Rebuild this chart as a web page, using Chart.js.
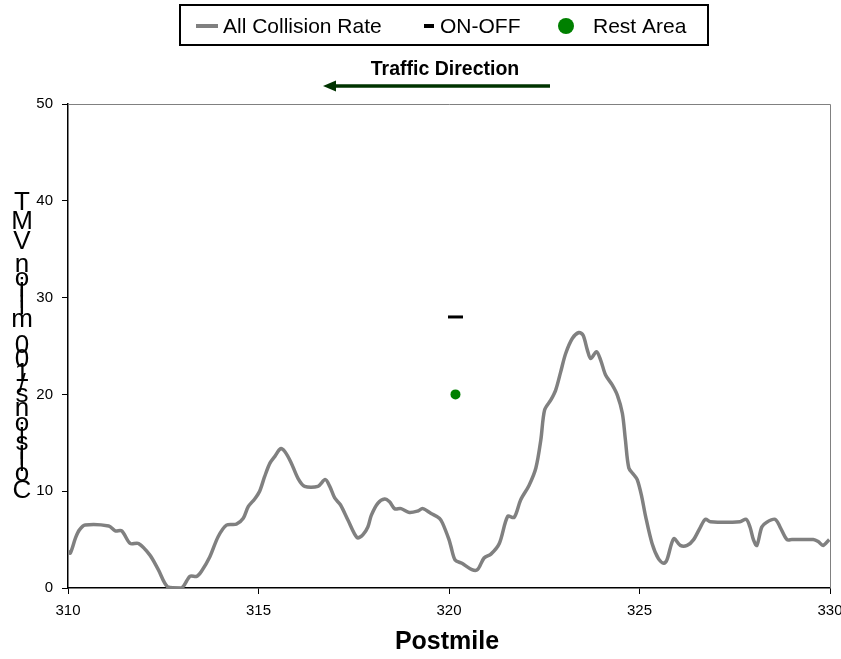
<!DOCTYPE html>
<html>
<head>
<meta charset="utf-8">
<script src="https://cdn.jsdelivr.net/npm/chart.js@4.4.0/dist/chart.umd.min.js"></script>
<style>
  html, body { margin: 0; padding: 0; background: #fff; }
  #wrap { width: 841px; height: 659px; position: relative; }
</style>
</head>
<body>
<div id="wrap"><canvas id="chart"></canvas></div>
<script>
// postmile positions and collision rates
const postmile = [
  310.0, 310.06, 310.2, 310.3, 310.45, 311.07, 311.24, 311.41, 311.63, 311.85,
  312.15, 312.37, 312.62, 312.98, 313.2, 313.38, 313.5, 313.72, 313.94, 314.16,
  314.42, 314.6, 314.73, 314.9, 315.03, 315.16, 315.3, 315.43, 315.58, 315.69,
  315.85, 316.04, 316.21, 316.56, 316.75, 316.87, 317.0, 317.15, 317.35, 317.59,
  317.74, 317.87, 317.96, 318.13, 318.31, 318.44, 318.57, 318.74, 318.96, 319.18,
  319.31, 319.53, 319.75, 319.83, 320.0, 320.05, 320.16, 320.34, 320.6, 320.75,
  320.92, 321.1, 321.32, 321.54, 321.71, 321.88, 322.1, 322.28, 322.41, 322.51,
  322.67, 322.8, 322.93, 323.06, 323.24, 323.41, 323.52, 323.63, 323.72, 323.87,
  323.98, 324.11, 324.28, 324.42, 324.55, 324.63, 324.72, 324.85, 324.94, 325.05,
  325.16, 325.33, 325.5, 325.64, 325.72, 325.9, 326.07, 326.25, 326.42, 326.6,
  326.73, 326.86, 327.64, 327.8, 327.9, 327.99, 328.08, 328.21, 328.34, 328.56,
  328.69, 328.87, 329.0, 329.56, 329.69, 329.82, 329.98
];
const collisionRate = [
  3.8, 3.6, 5.2, 6.0, 6.5, 6.4, 5.9, 5.9, 4.6, 4.6,
  3.4, 1.9, 0.1, 0.0, 1.2, 1.2, 1.7, 3.2, 5.3, 6.5,
  6.6, 7.2, 8.4, 9.2, 10.0, 11.5, 12.9, 13.6, 14.4, 14.1,
  13.0, 11.3, 10.5, 10.5, 11.2, 10.5, 9.3, 8.6, 7.0, 5.2,
  5.5, 6.3, 7.5, 8.75, 9.2, 8.9, 8.2, 8.2, 7.8, 7.95,
  8.2, 7.7, 7.2, 6.7, 5.0, 4.3, 2.9, 2.55, 1.9, 1.9,
  3.1, 3.5, 4.6, 7.4, 7.3, 9.1, 10.6, 12.4, 15.3, 18.4,
  19.4, 20.45, 22.3, 24.2, 25.8, 26.4, 26.1, 24.6, 23.7, 24.4,
  23.55, 22.0, 21.0, 19.9, 18.05, 15.3, 12.4, 11.7, 11.2, 9.6,
  7.4, 4.6, 3.0, 2.55, 2.9, 5.1, 4.4, 4.4, 5.0, 6.3,
  7.1, 6.85, 6.85, 7.1, 6.3, 5.0, 4.4, 6.3, 6.8, 7.1,
  6.3, 5.0, 5.0, 5.0, 4.8, 4.4, 5.0
];
const onOffPostmile = [320.17];
const onOffValue = [28];
const restAreaPostmile = [320.17];
const restAreaValue = [20];

const xTicks = [310, 315, 320, 325, 330];
const yTicks = [0, 10, 20, 30, 40, 50];
const yTitle = "Collisions/100 million VMT";
const xTitle = "Postmile";
const directionText = "Traffic Direction";
const legendLabels = ["All Collision Rate", "ON-OFF", "Rest Area"];

const FONT = "'Liberation Sans', Arial, sans-serif";
const GRAY = "#808080";
const GREEN = "#008000";

const toPoints = (xs, ys) => xs.map((x, i) => ({ x: x, y: ys[i] }));

// extra drawing: frame, legend box, direction arrow, stacked y title, x title
const decor = {
  id: "decor",
  beforeDatasetsDraw(chart) {
    const { ctx, chartArea: a } = chart;
    ctx.save();
    ctx.strokeStyle = GRAY;
    ctx.lineWidth = 1;
    ctx.beginPath();
    ctx.moveTo(a.left, a.top + 0.5);
    ctx.lineTo(a.right + 0.5, a.top + 0.5);
    ctx.lineTo(a.right + 0.5, a.bottom);
    ctx.stroke();
    ctx.restore();
  },
  afterDraw(chart) {
    const ctx = chart.ctx;
    ctx.save();

    // legend
    ctx.strokeStyle = "#000";
    ctx.lineWidth = 2;
    ctx.strokeRect(180, 5, 528, 40);
    ctx.font = "21px " + FONT;
    ctx.textBaseline = "middle";
    ctx.fillStyle = "#000";
    ctx.strokeStyle = GRAY;
    ctx.lineWidth = 4;
    ctx.beginPath(); ctx.moveTo(196, 26); ctx.lineTo(218, 26); ctx.stroke();
    ctx.fillText(legendLabels[0], 223, 27);
    ctx.strokeStyle = "#000";
    ctx.lineWidth = 4;
    ctx.beginPath(); ctx.moveTo(424, 26); ctx.lineTo(434, 26); ctx.stroke();
    ctx.fillText(legendLabels[1], 440, 27);
    ctx.fillStyle = GREEN;
    ctx.beginPath(); ctx.arc(566, 26, 8, 0, Math.PI * 2); ctx.fill();
    ctx.fillStyle = "#000";
    ctx.fillText(legendLabels[2], 593, 27);

    // traffic direction
    ctx.font = "bold 19.5px " + FONT;
    ctx.textAlign = "center";
    ctx.fillText(directionText, 445, 70);
    ctx.strokeStyle = "#003300";
    ctx.fillStyle = "#003300";
    ctx.lineWidth = 3.5;
    ctx.beginPath(); ctx.moveTo(550, 86); ctx.lineTo(334, 86); ctx.stroke();
    ctx.beginPath();
    ctx.moveTo(323, 86); ctx.lineTo(336, 80.5); ctx.lineTo(336, 91.5);
    ctx.closePath(); ctx.fill();

    // x title
    ctx.fillStyle = "#000";
    ctx.font = "bold 25px " + FONT;
    ctx.textBaseline = "middle";
    ctx.fillText(xTitle, 447, 642);

    // y title: upright glyphs stacked bottom to top
    ctx.font = "26px " + FONT;
    ctx.textAlign = "center";
    ctx.textBaseline = "middle";
    let yPos = 500;
    for (const ch of yTitle) {
      const w = ctx.measureText(ch).width;
      if (ch !== " ") ctx.fillText(ch, 22, yPos - w / 2);
      yPos -= w;
    }
    ctx.restore();
  }
};

new Chart(document.getElementById("chart"), {
  type: "line",
  data: {
    datasets: [
      {
        label: legendLabels[0],
        data: toPoints(postmile, collisionRate),
        borderColor: GRAY,
        borderWidth: 3.5,
        pointRadius: 0,
        tension: 0.3,
        fill: false
      },
      {
        label: legendLabels[1],
        data: toPoints(onOffPostmile, onOffValue),
        showLine: false,
        pointStyle: "line",
        pointRadius: 7.5,
        borderColor: "#000",
        backgroundColor: "#000",
        pointBorderWidth: 3
      },
      {
        label: legendLabels[2],
        data: toPoints(restAreaPostmile, restAreaValue),
        showLine: false,
        pointStyle: "circle",
        pointRadius: 5,
        borderColor: GREEN,
        backgroundColor: GREEN,
        pointBorderWidth: 0
      }
    ]
  },
  options: {
    responsive: true,
    maintainAspectRatio: false,
    animation: false,
    layout: { padding: { left: 0, right: 11, top: 104, bottom: 0 } },
    plugins: { legend: { display: false }, tooltip: { enabled: false } },
    scales: {
      x: {
        type: "linear",
        min: 310,
        max: 330,
        afterBuildTicks: s => { s.ticks = xTicks.map(v => ({ value: v })); },
        afterFit: s => { s.height = 71; s.paddingRight = 0; s.paddingLeft = 0; },
        ticks: { color: "#000", font: { family: FONT, size: 15 }, padding: 8, maxRotation: 0 },
        grid: { display: true, drawOnChartArea: false, drawTicks: true, tickLength: 6, color: "#000" },
        border: { display: true, color: "#000", width: 1.5 }
      },
      y: {
        min: 0,
        max: 50,
        afterBuildTicks: s => { s.ticks = yTicks.map(v => ({ value: v })); },
        afterFit: s => { s.width = 68; s.paddingTop = 0; s.paddingBottom = 0; },
        ticks: { color: "#000", font: { family: FONT, size: 15 }, padding: 9 },
        grid: { display: true, drawOnChartArea: false, drawTicks: true, tickLength: 6, color: "#000" },
        border: { display: true, color: "#000", width: 1.5 }
      }
    }
  },
  plugins: [decor]
});
</script>
</body>
</html>
